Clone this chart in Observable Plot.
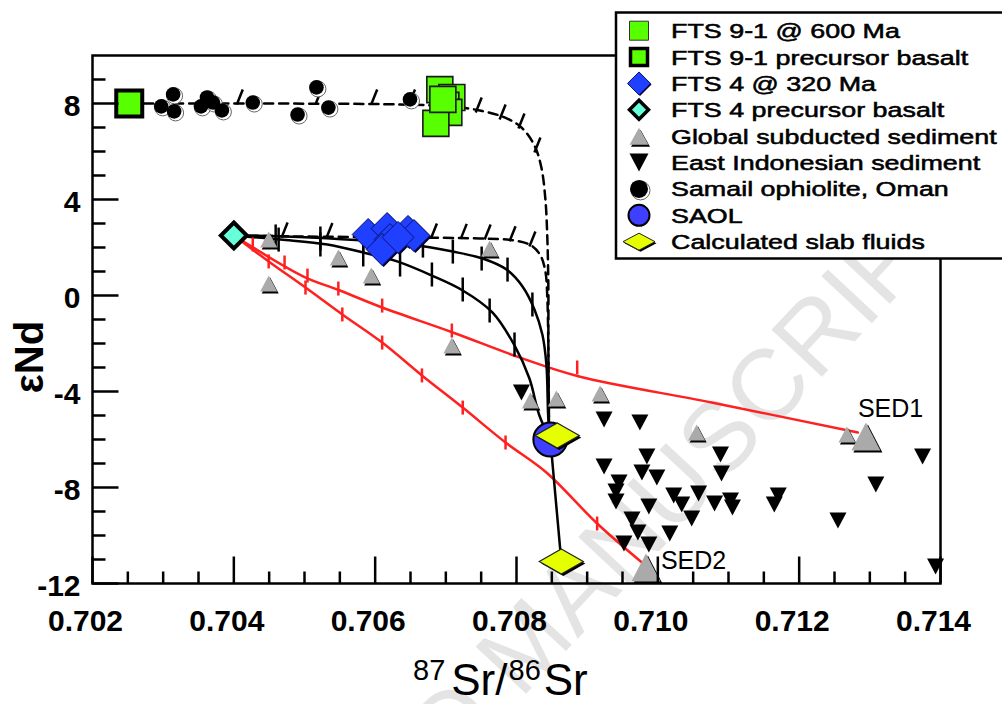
<!DOCTYPE html>
<html><head><meta charset="utf-8">
<script src="https://cdn.jsdelivr.net/npm/d3@7"></script>
<script src="https://cdn.jsdelivr.net/npm/@observablehq/plot@0.6"></script>
<style>
body{margin:0;background:#fff;}
#wrap{position:relative;width:1002px;height:704px;overflow:hidden;background:#fff;}
#wrap svg{position:absolute;left:0;top:0;}
</style></head><body><div id="wrap"></div>
<script>
// ---------- tick values ----------
const xMajor = [0.702, 0.704, 0.706, 0.708, 0.710, 0.712, 0.714];
const xMinor = [0.7025,0.703,0.7035,0.7045,0.705,0.7055,0.7065,0.707,0.7075,0.7085,0.709,0.7095,0.7105,0.711,0.7115,0.7125,0.713,0.7135];
const yMajor = [8, 4, 0, -4, -8, -12];
const yMinor = [9, 7, 6, 5, 3, 2, 1, -1, -2, -3, -5, -6, -7, -9, -10, -11];

// ---------- data series ----------
const fts91Sr = [0.706915, 0.707085, 0.707000, 0.707042, 0.706859, 0.706958];
const fts91Nd = [8.58, 8.25, 7.92, 7.63, 7.17, 8.17];
const fts91BasaltSr = [0.70252];
const fts91BasaltNd = [8.0];
const fts4Sr = [0.705901, 0.706169, 0.706211, 0.706465, 0.706549, 0.706099, 0.706324];
const fts4Nd = [2.54, 2.79, 2.33, 2.67, 2.50, 1.92, 2.42];
const fts4BasaltSr = [0.704];
const fts4BasaltNd = [2.5];
const globalSr = [0.704493, 0.705479, 0.705944, 0.704493, 0.707620, 0.707085, 0.708197, 0.708563, 0.709183, 0.710549, 0.712676];
const globalNd = [2.33, 1.58, 0.83, 0.50, 1.96, -2.08, -4.38, -4.29, -4.08, -5.71, -5.79];
const sedSr = [0.712944, 0.709831];
const sedNd = [-5.88, -11.33];
const sedNames = ["SED1", "SED2"];
const indoSr = [0.709239,0.709746,0.710887,0.713746,0.709239,0.709845,0.709775,0.709986,0.709451,0.709408,0.709408,0.710901,0.713085,0.710225,0.710338,0.710577,0.710803,0.711056,0.711028,0.711704,0.711648,0.709873,0.710479,0.709634,0.709718,0.710169,0.709521,0.709873,0.712549,0.713930,0.708070];
const indoNd = [-5.17,-5.29,-6.63,-6.71,-7.13,-6.71,-7.38,-7.58,-7.79,-8.17,-8.58,-7.42,-7.88,-8.33,-8.71,-8.25,-8.67,-8.83,-8.54,-8.33,-8.71,-8.79,-9.29,-9.33,-9.88,-9.92,-10.33,-10.38,-9.38,-11.29,-4.04];
const samailSr = [0.702972, 0.703141, 0.703155, 0.703535, 0.703620, 0.703704, 0.703831, 0.704268, 0.704902, 0.705169, 0.705338, 0.706493];
const samailNd = [7.88, 8.38, 7.67, 7.88, 8.25, 8.04, 7.71, 8.04, 7.54, 8.67, 7.83, 8.17];
const saolSr = [0.708479];
const saolNd = [-6.0];
const fluidSr = [0.708577, 0.708634];
const fluidNd = [-5.83, -11.08];

// ---------- mixing curves ----------
const mix91Sr = [0.70252, 0.704239, 0.706352, 0.707056, 0.707479, 0.707831, 0.708070, 0.708254, 0.708352, 0.708409, 0.708437, 0.708451, 0.708451, 0.708460];
const mix91Nd = [8.0, 8.0, 7.96, 7.88, 7.71, 7.42, 7.0, 6.25, 5.33, 4.0, 2.33, 0.25, -2.25, -5.5];
const mix4DashSr = [0.704, 0.704944, 0.706352, 0.707479, 0.707972, 0.708211, 0.708338, 0.708409, 0.708437, 0.708451, 0.708460];
const mix4DashNd = [2.5, 2.46, 2.42, 2.375, 2.29, 2.08, 1.67, 1.0, -0.17, -2.25, -5.5];
const mixASr = [0.704, 0.705085, 0.706493, 0.707099, 0.707521, 0.707859, 0.708085, 0.708254, 0.708366, 0.708423, 0.708451, 0.708479];
const mixANd = [2.5, 2.42, 2.125, 1.83, 1.54, 1.08, 0.375, -0.58, -1.625, -2.875, -5.17, -6.0];
const mixBSr = [0.704, 0.704662, 0.705324, 0.705831, 0.706310, 0.706803, 0.707239, 0.707662, 0.707972, 0.708183, 0.708324, 0.708479];
const mixBNd = [2.5, 2.33, 2.125, 1.79, 1.42, 0.83, 0.21, -0.71, -2.08, -3.46, -5.0, -6.0];
const fluidLinkSr = [0.708479, 0.708634];
const fluidLinkNd = [-6.0, -11.08];
const red1Sr = [0.704, 0.704986, 0.705465, 0.706099, 0.707099, 0.708042, 0.708887, 0.710761, 0.712831];
const red1Nd = [2.5, 0.79, 0.25, -0.5, -1.54, -2.58, -3.375, -4.458, -5.71];
const red2Sr = [0.704, 0.704493, 0.705014, 0.705535, 0.706099, 0.706662, 0.707239, 0.707845, 0.708423, 0.709141, 0.709775];
const red2Nd = [2.5, 1.42, 0.33, -0.79, -1.96, -3.33, -4.67, -6.125, -7.375, -9.5, -11.125];

// ---------- tick marks along the curves ----------
const tick91Sr = [0.704070, 0.705183, 0.705972, 0.706507, 0.707451, 0.707789, 0.708056, 0.708282];
const tick91Nd = [8.0, 8.0, 8.0, 8.0, 7.67, 7.375, 7.0, 6.0];
const tick4DashSr = [0.704704, 0.705338, 0.706817, 0.707239, 0.707577, 0.707930, 0.708211];
const tick4DashNd = [2.46, 2.44, 2.42, 2.40, 2.375, 2.30, 2.08];
const tickASr = [0.704592, 0.705225, 0.705831, 0.706676, 0.707099, 0.707507, 0.707873, 0.708225];
const tickANd = [2.46, 2.375, 2.25, 2.08, 1.83, 1.54, 1.08, -0.375];
const tickBSr = [0.704634, 0.705225, 0.705831, 0.706352, 0.706803, 0.707239, 0.707620, 0.707972];
const tickBNd = [2.33, 2.125, 1.71, 1.29, 0.875, 0.25, -0.625, -2.04];
const tickRed1Sr = [0.704268, 0.704718, 0.705042, 0.705479, 0.706099, 0.707085, 0.708859];
const tickRed1Nd = [2.125, 1.375, 0.83, 0.29, -0.42, -1.46, -3.0];
const tickRed2Sr = [0.704493, 0.705014, 0.705535, 0.706099, 0.706662, 0.707239, 0.707845, 0.709141];
const tickRed2Nd = [1.42, 0.33, -0.79, -1.96, -3.33, -4.67, -6.125, -9.5];

const legendLabels = ["FTS 9-1 @ 600 Ma", "FTS 9-1 precursor basalt", "FTS 4 @ 320 Ma", "FTS 4 precursor basalt",
  "Global subducted sediment", "East Indonesian sediment", "Samail ophiolite, Oman", "SAOL", "Calculated slab fluids"];

// ---------- symbols ----------
const custom = fn => ({draw(c){ fn(c); }});
const tickUp = L => custom(c => { c.moveTo(0,0); c.lineTo(0,-L); });
const tickIn = L => custom(c => { c.moveTo(0,0); c.lineTo(L,0); });
const vbar = h => custom(c => { c.moveTo(0,-h/2); c.lineTo(0,h/2); });
const slash = custom(c => { c.moveTo(-2,1); c.lineTo(4,-14); });
const square = s => custom(c => { const h=s/2; c.moveTo(-h,-h); c.lineTo(h,-h); c.lineTo(h,h); c.lineTo(-h,h); c.closePath(); });
const diamond = (w,h) => custom(c => { c.moveTo(0,-h/2); c.lineTo(w/2,0); c.lineTo(0,h/2); c.lineTo(-w/2,0); c.closePath(); });
const triUp = (w,h) => custom(c => { c.moveTo(0,-h/2); c.lineTo(w/2,h/2); c.lineTo(-w/2,h/2); c.closePath(); });
const triDown = (w,h) => custom(c => { c.moveTo(-w/2,-h/2); c.lineTo(w/2,-h/2); c.lineTo(0,h/2); c.closePath(); });
const circle = r => custom(c => { c.moveTo(r,0); c.arc(0,0,r,0,2*Math.PI); c.closePath(); });

const rows = (xs, ys) => xs.map((x, i) => ({x, y: ys[i]}));
const pts = (xs, ys, o) => Plot.dot(rows(xs, ys), {x: "x", y: "y", ...o});
const curve = (xs, ys, o) => Plot.line(rows(xs, ys), {x: "x", y: "y", curve: "catmull-rom", strokeWidth: 2.5, ...o});

const GREEN = "#58ff00", BLUE = "#2040ff", CYAN = "#66ffd9", GRAY = "#aaaaaa", SAOLC = "#3f3fff", YEL = "#e6ff00", RED = "#ff2020";
const FONT = "'Liberation Sans', Arial, sans-serif";

const plot = Plot.plot({
  width: 1002, height: 704,
  marginLeft: 92, marginRight: 62, marginTop: 55, marginBottom: 121,
  x: {domain: [0.702, 0.714], axis: null},
  y: {domain: [-12, 10], axis: null},
  style: {fontFamily: FONT, background: "white", color: "black"},
  marks: [
    Plot.text(["ACCEPTED MANUSCRIPT"], {frameAnchor: "top-left", dx: 435, dy: 590, rotate: -47, fontSize: 100,
      fill: "#e4e4e4", textAnchor: "middle", lineAnchor: "middle", text: d => d}),
    // mixing lines
    curve(red1Sr, red1Nd, {stroke: RED}),
    curve(red2Sr, red2Nd, {stroke: RED}),
    curve(mix91Sr, mix91Nd, {stroke: "black", strokeDasharray: "9,6"}),
    curve(mix4DashSr, mix4DashNd, {stroke: "black", strokeDasharray: "9,6"}),
    curve(mixASr, mixANd, {stroke: "black"}),
    curve(mixBSr, mixBNd, {stroke: "black"}),
    curve(fluidLinkSr, fluidLinkNd, {stroke: "black"}),
    // tick marks along curves
    pts(tickRed1Sr, tickRed1Nd, {symbol: vbar(14), stroke: RED, strokeWidth: 2.5, fill: "none"}),
    pts(tickRed2Sr, tickRed2Nd, {symbol: vbar(14), stroke: RED, strokeWidth: 2.5, fill: "none"}),
    pts(tickASr, tickANd, {symbol: vbar(24), stroke: "black", strokeWidth: 2.5, fill: "none"}),
    pts(tickBSr, tickBNd, {symbol: vbar(24), stroke: "black", strokeWidth: 2.5, fill: "none"}),
    pts(tick91Sr, tick91Nd, {symbol: slash, stroke: "black", strokeWidth: 2.5, fill: "none"}),
    pts(tick4DashSr, tick4DashNd, {symbol: slash, stroke: "black", strokeWidth: 2.5, fill: "none"}),
    // Samail ophiolite
    pts(samailSr, samailNd, {symbol: circle(8), fill: "white", stroke: "#666", strokeWidth: 1, dx: 1.5, dy: 1.5}),
    pts(samailSr, samailNd, {symbol: circle(7.3), fill: "black"}),
    // FTS 9-1
    pts(fts91BasaltSr, fts91BasaltNd, {symbol: square(26), fill: GREEN, stroke: "black", strokeWidth: 4}),
    pts(fts91Sr, fts91Nd, {symbol: square(26), fill: GREEN, stroke: "#1a1a1a", strokeWidth: 1.6}),
    // sediments
    pts(globalSr, globalNd, {symbol: triUp(17, 16), fill: "black", dx: 1.5, dy: 2}),
    pts(globalSr, globalNd, {symbol: triUp(17, 16), fill: GRAY}),
    pts(sedSr, sedNd, {symbol: triUp(29, 28), fill: "black", dx: 2, dy: 2}),
    pts(sedSr, sedNd, {symbol: triUp(29, 28), fill: GRAY}),
    pts(indoSr, indoNd, {symbol: triDown(17, 16), fill: "black"}),
    // FTS 4
    pts(fts4Sr, fts4Nd, {symbol: diamond(32, 32), fill: "#000030", dx: 1.5, dy: 1.5}),
    pts(fts4Sr, fts4Nd, {symbol: diamond(32, 32), fill: BLUE, stroke: "#0a1070", strokeWidth: 1}),
    pts(fts4BasaltSr, fts4BasaltNd, {symbol: diamond(26, 26), fill: CYAN, stroke: "black", strokeWidth: 4}),
    // SAOL and slab fluids
    pts(saolSr, saolNd, {symbol: circle(17), fill: SAOLC, stroke: "black", strokeWidth: 2}),
    pts(fluidSr, fluidNd, {symbol: diamond(44, 25), fill: "black", dx: 2, dy: 2}),
    pts(fluidSr, fluidNd, {symbol: diamond(44, 25), fill: YEL, stroke: "#222", strokeWidth: 1.2}),
    // SED labels
    Plot.text(rows(sedSr, sedNd).map((d, i) => ({...d, name: sedNames[i]})).filter(d => d.name === "SED1"),
      {x: "x", y: "y", text: "name", textAnchor: "start", lineAnchor: "bottom", dx: -8, dy: -20, fontSize: 25}),
    Plot.text(rows(sedSr, sedNd).map((d, i) => ({...d, name: sedNames[i]})).filter(d => d.name === "SED2"),
      {x: "x", y: "y", text: "name", textAnchor: "start", lineAnchor: "bottom", dx: 15, dy: 2, fontSize: 25}),
    // frame + axes
    Plot.frame({stroke: "black", strokeWidth: 2.5}),
    Plot.dot(xMinor, {x: d => d, frameAnchor: "bottom", symbol: tickUp(12), stroke: "black", strokeWidth: 2.5, fill: "none"}),
    Plot.dot(xMajor, {x: d => d, frameAnchor: "bottom", symbol: tickUp(27), stroke: "black", strokeWidth: 2.5, fill: "none"}),
    Plot.dot(yMinor, {y: d => d, frameAnchor: "left", symbol: tickIn(13), stroke: "black", strokeWidth: 2.5, fill: "none"}),
    Plot.dot(yMajor, {y: d => d, frameAnchor: "left", symbol: tickIn(26), stroke: "black", strokeWidth: 2.5, fill: "none"}),
    Plot.text(xMajor, {x: d => d, frameAnchor: "bottom", dy: 47, dx: -7, text: d => d.toFixed(3), fontSize: 30, fontWeight: "bold"}),
    Plot.text(yMajor, {y: d => d, frameAnchor: "left", textAnchor: "end", dx: -12, dy: 3, text: d => String(d), fontSize: 30, fontWeight: "bold"})
  ]
});

const wrap = document.getElementById("wrap");
wrap.appendChild(plot);
const svg = d3.select(plot);

// x axis title with superscripts
const t = svg.append("text").attr("x", 413).attr("y", 695).attr("text-anchor", "start")
  .attr("fill", "black").style("font-family", FONT);
t.append("tspan").attr("dy", -15).attr("font-size", 29).text("87");
t.append("tspan").attr("dx", 6).attr("dy", 15).attr("font-size", 44).text("Sr/");
t.append("tspan").attr("dx", 1).attr("dy", -15).attr("font-size", 29).text("86");
t.append("tspan").attr("dx", 3).attr("dy", 15).attr("font-size", 44).text("Sr");

// y axis title
svg.append("text").attr("transform", "translate(43,357) rotate(-90)").attr("text-anchor", "middle")
  .attr("font-size", 40).attr("font-weight", "bold").attr("fill", "black")
  .style("font-family", FONT).text("εNd");

// legend overlay
const leg = d3.select(wrap).append("svg").attr("width", 1002).attr("height", 704);
leg.append("rect").attr("x", 616).attr("y", 12.5).attr("width", 420).attr("height", 246)
  .attr("fill", "white").attr("stroke", "black").attr("stroke-width", 2.5);
const legRowY = i => 30.7 + i * 26.37;
const legSyms = [
  [{sym: square(19), fill: GREEN, stroke: "#333", sw: 1}],
  [{sym: square(17), fill: GREEN, stroke: "black", sw: 3.5}],
  [{sym: diamond(23, 23), fill: "#000030", dx: 1, dy: 1}, {sym: diamond(23, 23), fill: BLUE, stroke: "#0a1070", sw: 1}],
  [{sym: diamond(19, 19), fill: CYAN, stroke: "black", sw: 3.5}],
  [{sym: triUp(19, 17), fill: "black", dx: 1.5, dy: 2}, {sym: triUp(19, 17), fill: GRAY}],
  [{sym: triDown(19, 18), fill: "black"}],
  [{sym: circle(9.5), fill: "white", stroke: "#666", sw: 1, dx: 1.5, dy: 1.5}, {sym: circle(9), fill: "black"}],
  [{sym: circle(10.5), fill: SAOLC, stroke: "black", sw: 2}],
  [{sym: diamond(32, 17), fill: "black", dx: 1.5, dy: 1.5}, {sym: diamond(32, 17), fill: YEL, stroke: "#222", sw: 1}]
];
legendLabels.forEach((label, i) => {
  const cy = legRowY(i);
  legSyms[i].forEach(s => {
    leg.append("path").attr("d", d3.symbol(s.sym)())
      .attr("transform", `translate(${639 + (s.dx || 0)},${cy + (s.dy || 0)})`)
      .attr("fill", s.fill).attr("stroke", s.stroke || "none").attr("stroke-width", s.sw || 0);
  });
  leg.append("text").attr("transform", `translate(671,${cy + 7.5}) scale(1.28,1)`)
    .attr("text-anchor", "start")
    .attr("font-size", 21).attr("fill", "black").attr("stroke", "black").attr("stroke-width", 0.55)
    .style("font-family", FONT).text(label);
});
</script></body></html>
